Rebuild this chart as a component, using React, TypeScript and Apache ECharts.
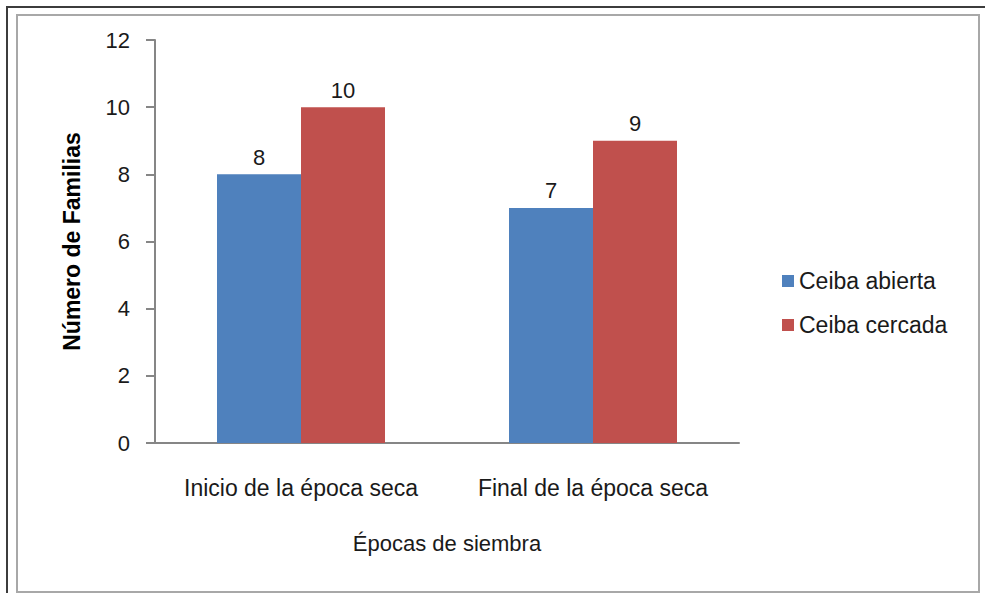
import React, { useEffect, useRef } from "react";
import * as echarts from "echarts";

const categories = ["Inicio de la época seca", "Final de la época seca"];
const seriesNames = ["Ceiba abierta", "Ceiba cercada"];
const abierta = [8, 7];
const cercada = [10, 9];
const yTicks = [0, 2, 4, 6, 8, 10, 12];

const FONT = "'Liberation Sans', Arial, sans-serif";
const TXT = "#1a1a1a";

export default function App() {
  const ref = useRef<HTMLDivElement>(null);
  useEffect(() => {
    const chart = echarts.init(ref.current!, null, { renderer: "svg" });
    chart.setOption({
      animation: false,
      backgroundColor: "#ffffff",
      textStyle: { fontFamily: FONT },
      graphic: [
        {
          type: "rect",
          shape: { x: 7, y: 7, width: 1000, height: 1000 },
          style: { fill: "none", stroke: "#3c3c3c", lineWidth: 2 },
          silent: true,
        },
        {
          type: "rect",
          shape: { x: 17, y: 15, width: 962, height: 577 },
          style: { fill: "none", stroke: "#a8a8a8", lineWidth: 2 },
          silent: true,
        },
      ],
      grid: { left: 155, top: 40, width: 584, height: 403, containLabel: false },
      legend: {
        orient: "vertical",
        left: 777,
        top: 264,
        itemWidth: 12,
        itemHeight: 12,
        itemGap: 20,
        icon: "rect",
        data: seriesNames,
        textStyle: { fontFamily: FONT, fontSize: 23, color: TXT, lineHeight: 24 },
      },
      xAxis: {
        type: "category",
        data: categories,
        name: "Épocas de siembra",
        nameLocation: "middle",
        nameGap: 89,
        nameTextStyle: { fontFamily: FONT, fontSize: 22, color: TXT },
        axisLine: { lineStyle: { color: "#868686", width: 2 } },
        axisTick: { show: false },
        axisLabel: { interval: 0, hideOverlap: false, margin: 33, fontFamily: FONT, fontSize: 23, color: TXT },
      },
      yAxis: {
        type: "value",
        min: yTicks[0],
        max: yTicks[yTicks.length - 1],
        interval: 2,
        name: "Número de Familias",
        nameLocation: "middle",
        nameGap: 72,
        nameTextStyle: { fontFamily: FONT, fontSize: 23, fontWeight: "bold", color: "#000" },
        axisLine: { show: true, lineStyle: { color: "#868686", width: 2 } },
        axisTick: { show: true, inside: false, length: 9, lineStyle: { color: "#868686", width: 2 } },
        splitLine: { show: false },
        axisLabel: { margin: 25, fontFamily: FONT, fontSize: 22, color: TXT },
      },
      series: [
        {
          name: seriesNames[0],
          type: "bar",
          data: abierta,
          barWidth: 84,
          barGap: "0%",
          itemStyle: { color: "#4F81BD" },
          label: { show: true, position: "top", distance: 6, fontFamily: FONT, fontSize: 22, color: TXT },
        },
        {
          name: seriesNames[1],
          type: "bar",
          data: cercada,
          barWidth: 84,
          barGap: "0%",
          itemStyle: { color: "#C0504D" },
          label: { show: true, position: "top", distance: 6, fontFamily: FONT, fontSize: 22, color: TXT },
        },
      ],
    });
    return () => chart.dispose();
  }, []);
  return (
    <div
      ref={ref}
      style={{ position: "absolute", left: 0, top: 0, width: 985, height: 593, background: "#fff" }}
    />
  );
}
